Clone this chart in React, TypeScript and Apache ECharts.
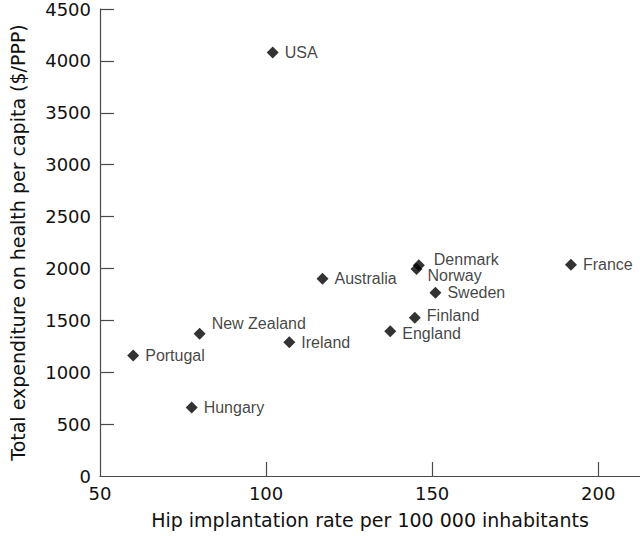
import React, { useEffect, useRef } from "react";
import * as echarts from "echarts";

const countries = ["USA", "Portugal", "New Zealand", "Ireland", "Hungary", "Australia", "Denmark", "Norway", "Sweden", "Finland", "England", "France"];
const hipRates = [102, 60, 80, 107, 77.6, 117, 146, 145.3, 151, 144.8, 137.4, 191.8];
const expenditures = [4080, 1160, 1370, 1290, 660, 1900, 2030, 1995, 1765, 1525, 1395, 2035];
const xTickLabels = [50, 100, 150, 200];
const yTickLabels = [0, 500, 1000, 1500, 2000, 2500, 3000, 3500, 4000, 4500];

const labelOffsets: Record<string, number[]> = {
  "New Zealand": [0, -10],
  Denmark: [3, -6],
  Norway: [-1, 7],
  Finland: [0, -2],
  England: [0, 2],
};

export default function App() {
  const ref = useRef<HTMLDivElement>(null);
  useEffect(() => {
    if (!ref.current) return;
    const chart = echarts.init(ref.current, null, { renderer: "svg" });
    const axisColor = "#4a4a4a";
    const data = countries.map((c, i) => ({
      name: c,
      value: [hipRates[i], expenditures[i]],
      label: { offset: labelOffsets[c] || [0, 0] },
    }));
    chart.setOption({
      animation: false,
      backgroundColor: "#ffffff",
      grid: { left: 97, right: 0, top: 8, bottom: 60, containLabel: false },
      xAxis: {
        type: "value",
        min: 50,
        max: 212.6,
        interval: 50,
        splitLine: { show: false },
        axisLine: { show: true, lineStyle: { color: axisColor, width: 1.2 } },
        axisTick: { show: true, inside: true, length: 14, customValues: [100, 150, 200], lineStyle: { color: axisColor, width: 1.2 } },
        axisLabel: {
          customValues: xTickLabels,
          formatter: (v: number) => String(v),
          margin: 8,
          color: "#111",
          fontFamily: "DejaVu Sans",
          fontSize: 18,
        },
        name: "Hip implantation rate per 100 000 inhabitants",
        nameLocation: "middle",
        nameGap: 34,
        nameTextStyle: { color: "#111", fontFamily: "DejaVu Sans", fontSize: 19 },
      },
      yAxis: {
        type: "value",
        min: 0,
        max: 4500,
        interval: 500,
        splitLine: { show: false },
        axisLine: { show: true, lineStyle: { color: axisColor, width: 1.2 } },
        axisTick: { show: true, inside: true, length: 14, customValues: yTickLabels.filter((v) => v > 0), lineStyle: { color: axisColor, width: 1.2 } },
        axisLabel: {
          customValues: yTickLabels,
          formatter: (v: number) => String(v),
          margin: 9,
          color: "#111",
          fontFamily: "DejaVu Sans",
          fontSize: 18,
        },
        name: "Total expenditure on health per capita ($/PPP)",
        nameLocation: "middle",
        nameRotate: 90,
        nameGap: 73,
        nameTextStyle: { color: "#111", fontFamily: "DejaVu Sans", fontSize: 19 },
      },
      series: [
        {
          type: "scatter",
          symbol: "diamond",
          symbolSize: 12,
          itemStyle: { color: "#000" },
          label: {
            show: true,
            position: "right",
            distance: 6,
            formatter: "{b}",
            color: "#111",
            fontFamily: "Liberation Sans",
            fontSize: 16,
          },
          data,
        },
      ],
    });
    return () => chart.dispose();
  }, []);
  return <div ref={ref} style={{ position: "fixed", left: 0, top: 0, width: 640, height: 536 }} />;
}
